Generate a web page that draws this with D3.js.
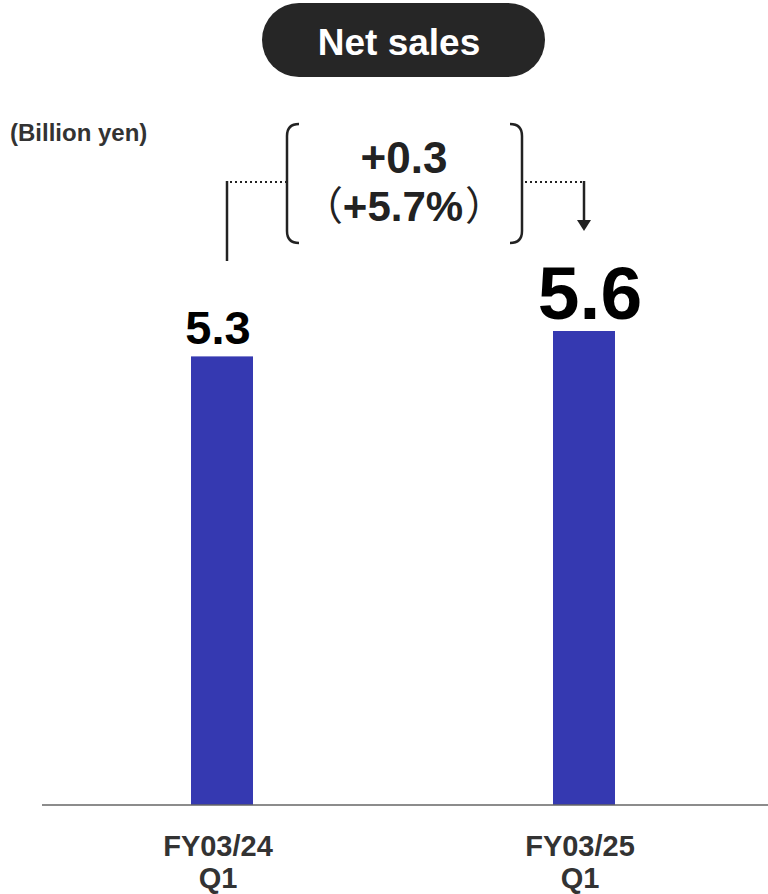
<!DOCTYPE html>
<html>
<head>
<meta charset="utf-8">
<script src="https://cdn.jsdelivr.net/npm/d3@7"></script>
<style>
    body { margin: 0; background: #fff; }
    svg text { font-family: "Liberation Sans", Arial, sans-serif; font-weight: bold; }
</style>
</head>
<body>
<div id="chart"></div>
<script>
// chart values
var categories = ["FY03/24\nQ1", "FY03/25\nQ1"];
var values = [5.3, 5.6];
var value_labels = ["5.3", "5.6"];
var title = "Net sales";
var unit_label = "(Billion yen)";
var diff_label = "+0.3";
var diff_pct = "+5.7%";

var width = 768, height = 894;

var svg = d3.select("#chart").append("svg")
    .attr("width", width)
    .attr("height", height);

// scales
var x = d3.scalePoint()
    .domain(categories)
    .range([222, 584]);

var y = d3.scaleLinear()
    .domain([0, 5.6])
    .range([805, 331]);

var bar_w = 62;

// title pill
svg.append("rect")
    .attr("x", 262).attr("y", 3)
    .attr("width", 283).attr("height", 74)
    .attr("rx", 37)
    .style("fill", "#262626");
svg.append("text")
    .attr("x", 399).attr("y", 55)
    .attr("text-anchor", "middle")
    .style("font-size", "37px")
    .style("fill", "#fff")
    .text(title);

// unit
svg.append("text")
    .attr("x", 10).attr("y", 141)
    .style("font-size", "24px")
    .style("fill", "#333")
    .text(unit_label);

// bars
svg.selectAll(".bar")
    .data(values)
    .enter()
    .append("rect")
    .attr("class", "bar")
    .attr("x", function(d, i) { return x(categories[i]) - bar_w / 2; })
    .attr("y", function(d) { return y(d); })
    .attr("width", bar_w)
    .attr("height", function(d) { return y(0) - y(d); })
    .style("fill", "#3539b1");

// value labels, the latest one bigger
var label_sizes = [47, 75];
var label_dx = [-4, 6];
svg.selectAll(".val")
    .data(values)
    .enter()
    .append("text")
    .attr("class", "val")
    .attr("x", function(d, i) { return x(categories[i]) + label_dx[i]; })
    .attr("y", function(d) { return y(d) - 12; })
    .attr("text-anchor", "middle")
    .style("font-size", function(d, i) { return label_sizes[i] + "px"; })
    .style("fill", "#000")
    .text(function(d, i) { return value_labels[i]; });

// baseline
svg.append("line")
    .attr("x1", 42).attr("x2", width)
    .attr("y1", y(0)).attr("y2", y(0))
    .style("stroke", "#666")
    .style("stroke-width", 1.5);

// category labels (two lines each)
var cat = svg.selectAll(".cat")
    .data(categories)
    .enter()
    .append("text")
    .attr("class", "cat")
    .attr("text-anchor", "middle")
    .style("font-size", "29px")
    .style("fill", "#333");
cat.selectAll("tspan")
    .data(function(d) { return d.split("\n").map(function(s) { return {s: s, c: d}; }); })
    .enter()
    .append("tspan")
    .attr("x", function(d) { return x(d.c) - 4; })
    .attr("y", function(d, i) { return 856 + i * 32; })
    .text(function(d) { return d.s; });

// difference annotation
var ann_y = 182;
var x0 = x(categories[0]) + 5, x1 = x(categories[1]);

svg.append("line")
    .attr("x1", x0).attr("x2", x0)
    .attr("y1", ann_y - 1).attr("y2", 261)
    .style("stroke", "#222").style("stroke-width", 2.5);
svg.append("line")
    .attr("x1", x0 + 3).attr("x2", 286)
    .attr("y1", ann_y).attr("y2", ann_y)
    .style("stroke", "#222").style("stroke-width", 2)
    .style("stroke-dasharray", "2,3");
svg.append("line")
    .attr("x1", 525).attr("x2", x1 - 2)
    .attr("y1", ann_y).attr("y2", ann_y)
    .style("stroke", "#222").style("stroke-width", 2)
    .style("stroke-dasharray", "2,3");
svg.append("line")
    .attr("x1", x1).attr("x2", x1)
    .attr("y1", ann_y - 1).attr("y2", 222)
    .style("stroke", "#222").style("stroke-width", 2.5);
svg.append("path")
    .attr("d", "M" + (x1 - 7) + ",220L" + (x1 + 7) + ",220L" + x1 + ",231Z")
    .style("fill", "#222");

// brackets
var top_y = 124, bot_y = 243, r = 12;
svg.append("path")
    .attr("d", "M" + (287 + r) + "," + top_y +
               "Q287," + top_y + " 287," + (top_y + r) +
               "L287," + (bot_y - r) +
               "Q287," + bot_y + " " + (287 + r) + "," + bot_y)
    .style("fill", "none").style("stroke", "#222").style("stroke-width", 2.5);
svg.append("path")
    .attr("d", "M" + (522 - r) + "," + top_y +
               "Q522," + top_y + " 522," + (top_y + r) +
               "L522," + (bot_y - r) +
               "Q522," + bot_y + " " + (522 - r) + "," + bot_y)
    .style("fill", "none").style("stroke", "#222").style("stroke-width", 2.5);

svg.append("text")
    .attr("x", 404).attr("y", 173)
    .attr("text-anchor", "middle")
    .style("font-size", "44px")
    .style("fill", "#222")
    .text(diff_label);

svg.append("text")
    .attr("x", 403).attr("y", 221)
    .attr("text-anchor", "middle")
    .style("font-size", "42px")
    .style("fill", "#222")
    .text(diff_pct);

// full-width parens round the percentage
svg.append("text")
    .attr("x", 343).attr("y", 220)
    .attr("text-anchor", "end")
    .style("font-family", "'Noto Sans CJK JP'")
    .style("font-weight", "normal")
    .style("font-size", "40px")
    .style("fill", "#222")
    .text("（");
svg.append("text")
    .attr("x", 465).attr("y", 220)
    .style("font-family", "'Noto Sans CJK JP'")
    .style("font-weight", "normal")
    .style("font-size", "40px")
    .style("fill", "#222")
    .text("）");
</script>
</body>
</html>
